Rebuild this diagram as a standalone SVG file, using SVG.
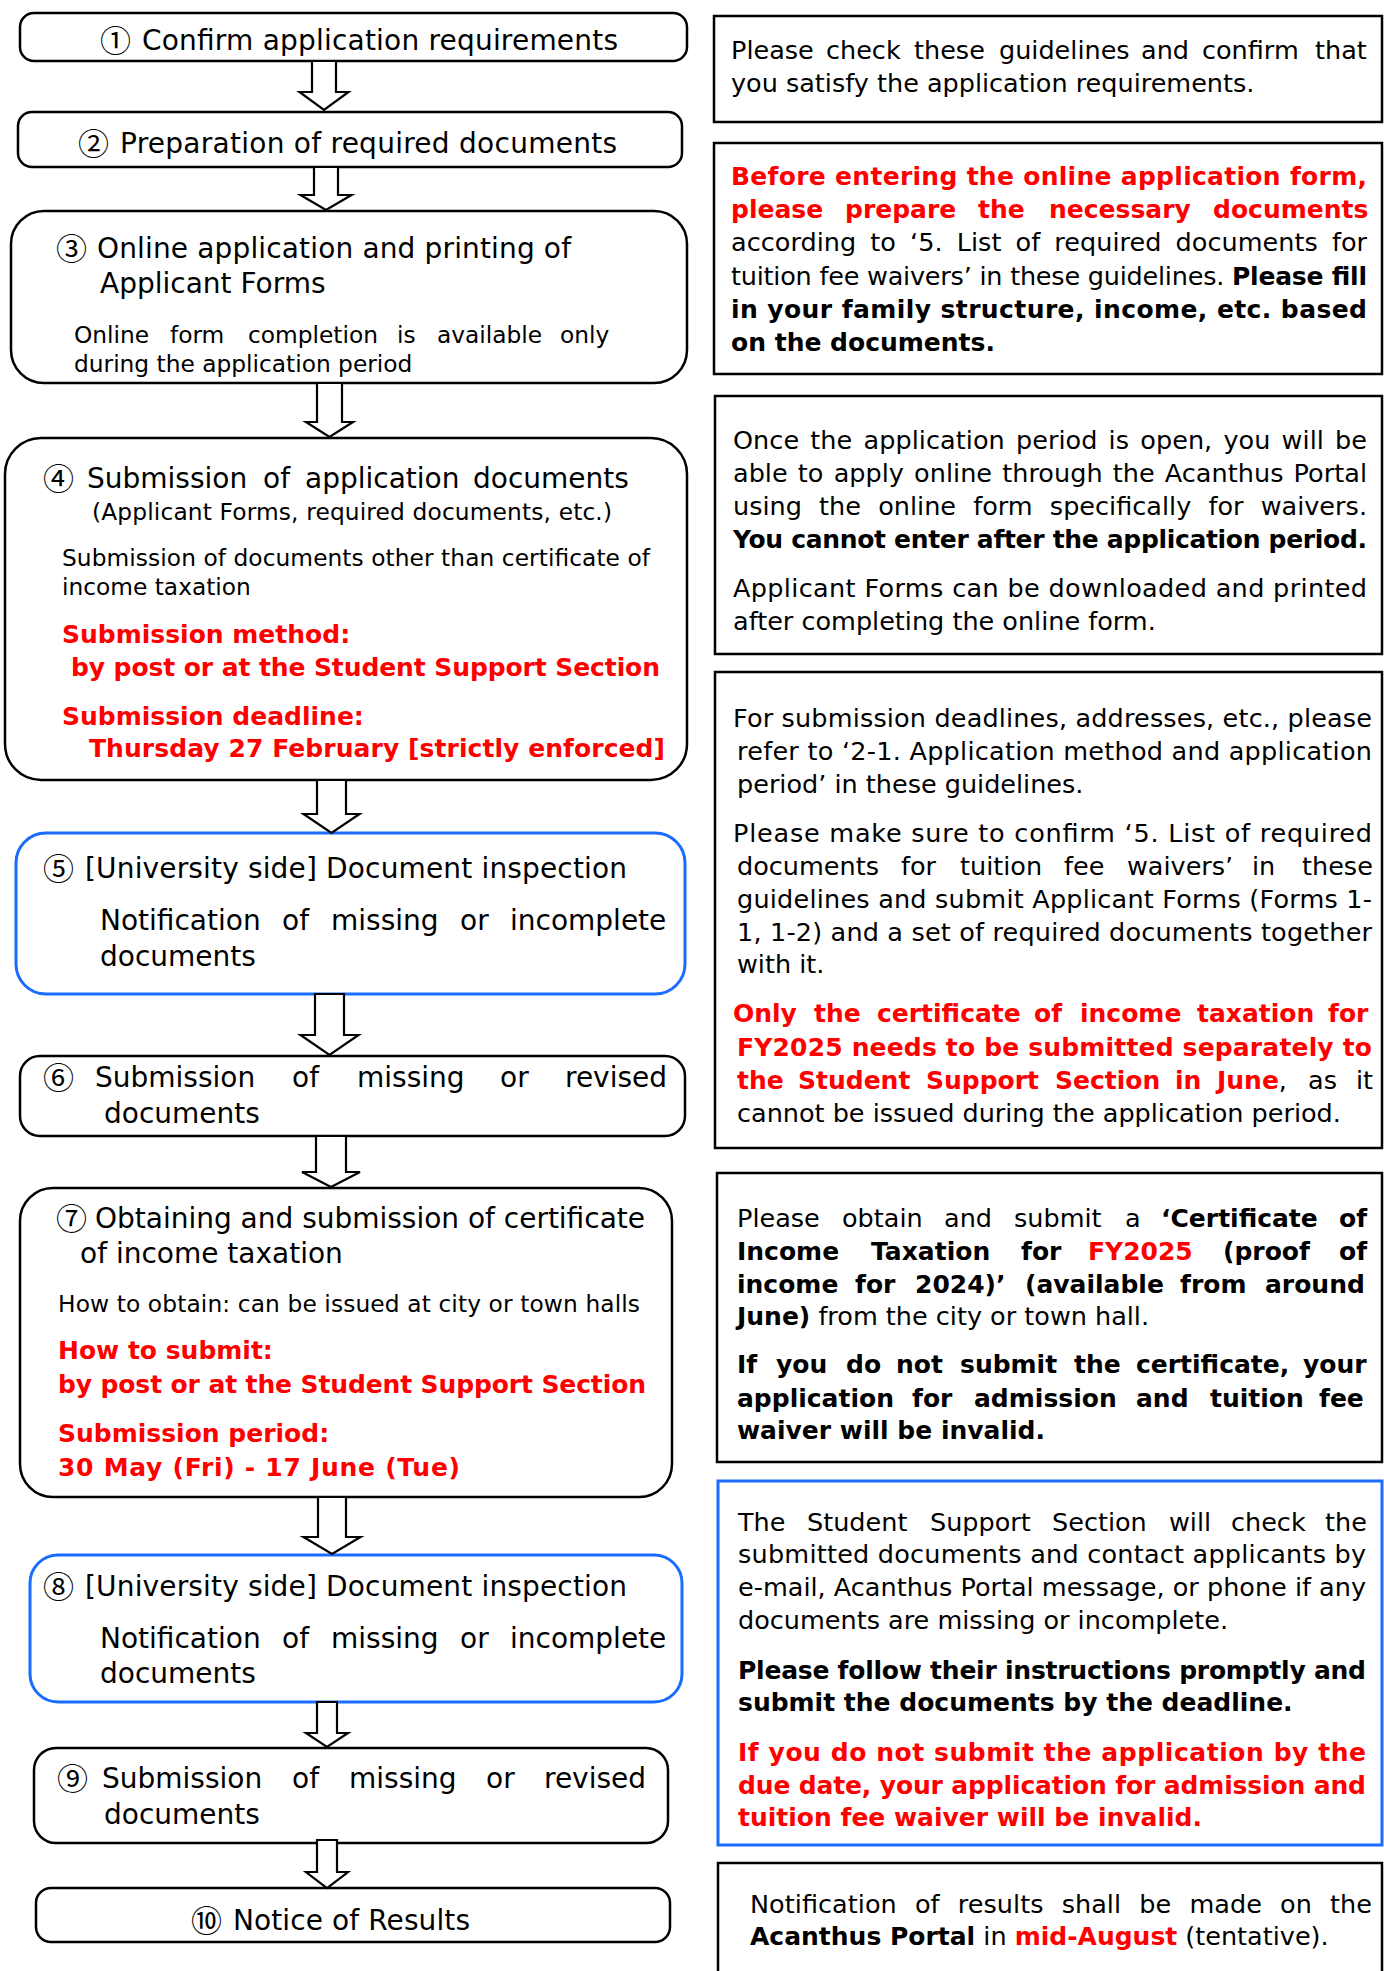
<svg xmlns="http://www.w3.org/2000/svg" width="1384" height="1971" viewBox="0 0 1384 1971">
<style>
.f{font-family:"DejaVu Sans",Verdana,"Noto Sans CJK JP",sans-serif;fill:#000}
.c{font-family:"Noto Sans CJK JP","DejaVu Sans",sans-serif;font-size:31px;fill:#000}
.t28{font-size:28px}
.t23{font-size:23.3px}
.t25{font-size:25.5px}
.bd{font-weight:bold;font-size:25px}
.rd{fill:#ff0000}
.box{fill:#fff;stroke:#000;stroke-width:2.5}
.blue{fill:#fff;stroke:#1a6cff;stroke-width:3}
.arr{fill:#fff;stroke:#000;stroke-width:2.2;stroke-linejoin:miter}
</style>
<rect width="1384" height="1971" fill="#fff"/>

<!-- Left column steps -->
<g id="step1">
<rect class="box" x="20" y="13" width="667" height="48" rx="14"/>
<text class="c" x="100" y="52">①</text>
<text class="f t28" x="142" y="50" textLength="476" lengthAdjust="spacing">Confirm application requirements</text>
</g>
<g id="step2">
<rect class="box" x="18" y="112" width="664" height="55" rx="14"/>
<text class="c" x="78" y="155">②</text>
<text class="f t28" x="120" y="153" textLength="497" lengthAdjust="spacing">Preparation of required documents</text>
</g>
<g id="step3">
<rect class="box" x="11" y="211" width="676" height="172" rx="33"/>
<text class="c" x="56" y="260">③</text>
<text class="f t28" x="97" y="258" textLength="474" lengthAdjust="spacing">Online application and printing of</text>
<text class="f t28" x="100" y="293">Applicant Forms</text>
<text class="f t23" y="343"><tspan x="74">Online</tspan><tspan x="170">form</tspan><tspan x="248">completion</tspan><tspan x="397">is</tspan><tspan x="437">available</tspan><tspan x="560">only</tspan></text>
<text class="f t23" x="74" y="372">during the application period</text>
</g>
<g id="step4">
<rect class="box" x="5" y="438" width="682" height="342" rx="36"/>
<text class="c" x="43" y="490">④</text>
<text class="f t28" y="488"><tspan x="87">Submission</tspan><tspan x="263">of</tspan><tspan x="305">application</tspan><tspan x="473">documents</tspan></text>
<text class="f t23" x="92" y="520" textLength="520" lengthAdjust="spacing">(Applicant Forms, required documents, etc.)</text>
<text class="f t23" x="62" y="566" textLength="588" lengthAdjust="spacing">Submission of documents other than certificate of</text>
<text class="f t23" x="62" y="595">income taxation</text>
<text class="f bd rd" x="62" y="643">Submission method:</text>
<text class="f bd rd" x="71" y="676" textLength="589" lengthAdjust="spacing">by post or at the Student Support Section</text>
<text class="f bd rd" x="62" y="725">Submission deadline:</text>
<text class="f bd rd" x="89" y="757" textLength="576" lengthAdjust="spacing">Thursday 27 February [strictly enforced]</text>
</g>
<g id="step5">
<rect class="blue" x="16" y="833" width="669" height="161" rx="30"/>
<text class="c" x="43" y="880">⑤</text>
<text class="f t28" x="85" y="878" textLength="542" lengthAdjust="spacing">[University side] Document inspection</text>
<text class="f t28" y="930"><tspan x="100">Notification</tspan><tspan x="282">of</tspan><tspan x="331">missing</tspan><tspan x="460">or</tspan><tspan x="510">incomplete</tspan></text>
<text class="f t28" x="100" y="966">documents</text>
</g>
<g id="step6">
<rect class="box" x="20" y="1056" width="665" height="80" rx="20"/>
<text class="c" x="43" y="1089">⑥</text>
<text class="f t28" y="1087"><tspan x="95">Submission</tspan><tspan x="292">of</tspan><tspan x="357">missing</tspan><tspan x="500">or</tspan><tspan x="565">revised</tspan></text>
<text class="f t28" x="104" y="1123">documents</text>
</g>
<g id="step7">
<rect class="box" x="20" y="1188" width="652" height="309" rx="33"/>
<text class="c" x="56" y="1230">⑦</text>
<text class="f t28" x="95" y="1228" textLength="550" lengthAdjust="spacing">Obtaining and submission of certificate</text>
<text class="f t28" x="80" y="1263">of income taxation</text>
<text class="f t23" x="58" y="1312" textLength="582" lengthAdjust="spacing">How to obtain: can be issued at city or town halls</text>
<text class="f bd rd" x="58" y="1359">How to submit:</text>
<text class="f bd rd" x="58" y="1393" textLength="588" lengthAdjust="spacing">by post or at the Student Support Section</text>
<text class="f bd rd" x="58" y="1442">Submission period:</text>
<text class="f bd rd" x="58" y="1476" textLength="402" lengthAdjust="spacing">30 May (Fri) - 17 June (Tue)</text>
</g>
<g id="step8">
<rect class="blue" x="30" y="1555" width="652" height="147" rx="28"/>
<text class="c" x="43" y="1598">⑧</text>
<text class="f t28" x="85" y="1596" textLength="542" lengthAdjust="spacing">[University side] Document inspection</text>
<text class="f t28" y="1648"><tspan x="100">Notification</tspan><tspan x="282">of</tspan><tspan x="331">missing</tspan><tspan x="460">or</tspan><tspan x="510">incomplete</tspan></text>
<text class="f t28" x="100" y="1683">documents</text>
</g>
<g id="step9">
<rect class="box" x="34" y="1748" width="634" height="95" rx="22"/>
<text class="c" x="57" y="1790">⑨</text>
<text class="f t28" y="1788"><tspan x="102">Submission</tspan><tspan x="292">of</tspan><tspan x="349">missing</tspan><tspan x="486">or</tspan><tspan x="544">revised</tspan></text>
<text class="f t28" x="104" y="1824">documents</text>
</g>
<g id="step10">
<rect class="box" x="36" y="1888" width="634" height="54" rx="15"/>
<text class="c" x="191" y="1932">⑩</text>
<text class="f t28" x="233" y="1930" textLength="237" lengthAdjust="spacing">Notice of Results</text>
</g>

<!-- Right column notes -->
<g id="note1">
<rect class="box" x="714" y="16" width="668" height="106"/>
<text class="f t25" y="59"><tspan x="731">Please</tspan><tspan x="826">check</tspan><tspan x="914">these</tspan><tspan x="999">guidelines</tspan><tspan x="1141">and</tspan><tspan x="1202">confirm</tspan><tspan x="1315">that</tspan></text>
<text class="f t25" x="731" y="92">you satisfy the application requirements.</text>
</g>
<g id="note2">
<rect class="box" x="714" y="143" width="668" height="231"/>
<text class="f bd rd" x="731" y="185" textLength="636" lengthAdjust="spacing">Before entering the online application form,</text>
<text class="f bd rd" y="218"><tspan x="731">please</tspan><tspan x="845">prepare</tspan><tspan x="978">the</tspan><tspan x="1049">necessary</tspan><tspan x="1213">documents</tspan></text>
<text class="f t25" x="731" y="251" word-spacing="6" textLength="636" lengthAdjust="spacing">according to ‘5. List of required documents for</text>
<text class="f t25" x="731" y="285" textLength="636" lengthAdjust="spacing">tuition fee waivers’ in these guidelines. <tspan class="bd">Please fill</tspan></text>
<text class="f bd" x="731" y="318" textLength="636" lengthAdjust="spacing">in your family structure, income, etc. based</text>
<text class="f bd" x="731" y="351">on the documents.</text>
</g>
<g id="note3">
<rect class="box" x="715" y="396" width="667" height="258"/>
<text class="f t25" x="733" y="449" word-spacing="3" textLength="634" lengthAdjust="spacing">Once the application period is open, you will be</text>
<text class="f t25" x="733" y="482" word-spacing="2" textLength="634" lengthAdjust="spacing">able to apply online through the Acanthus Portal</text>
<text class="f t25" x="733" y="515" word-spacing="9" textLength="634" lengthAdjust="spacing">using the online form specifically for waivers.</text>
<text class="f bd" x="733" y="548" textLength="634" lengthAdjust="spacing">You cannot enter after the application period.</text>
<text class="f t25" x="733" y="597" textLength="634" lengthAdjust="spacing">Applicant Forms can be downloaded and printed</text>
<text class="f t25" x="733" y="630">after completing the online form.</text>
</g>
<g id="note4">
<rect class="box" x="715" y="672" width="667" height="476"/>
<text class="f t25" x="733" y="727" textLength="639" lengthAdjust="spacing">For submission deadlines, addresses, etc., please</text>
<text class="f t25" x="737" y="760" textLength="635" lengthAdjust="spacing">refer to ‘2-1. Application method and application</text>
<text class="f t25" x="737" y="793">period’ in these guidelines.</text>
<text class="f t25" x="733" y="842" textLength="639" lengthAdjust="spacing">Please make sure to confirm ‘5. List of required</text>
<text class="f t25" y="875"><tspan x="737">documents</tspan><tspan x="901">for</tspan><tspan x="960">tuition</tspan><tspan x="1064">fee</tspan><tspan x="1127">waivers’</tspan><tspan x="1252">in</tspan><tspan x="1302">these</tspan></text>
<text class="f t25" x="737" y="908" textLength="635" lengthAdjust="spacing">guidelines and submit Applicant Forms (Forms 1-</text>
<text class="f t25" x="737" y="941" textLength="635" lengthAdjust="spacing">1, 1-2) and a set of required documents together</text>
<text class="f t25" x="737" y="973">with it.</text>
<text class="f bd rd" y="1022"><tspan x="733">Only</tspan><tspan x="814">the</tspan><tspan x="877">certificate</tspan><tspan x="1034">of</tspan><tspan x="1080">income</tspan><tspan x="1197">taxation</tspan><tspan x="1328">for</tspan></text>
<text class="f bd rd" x="737" y="1056" textLength="635" lengthAdjust="spacing">FY2025 needs to be submitted separately to</text>
<text class="f t25" y="1089"><tspan class="bd rd" x="737">the</tspan><tspan class="bd rd" x="798">Student</tspan><tspan class="bd rd" x="926">Support</tspan><tspan class="bd rd" x="1055">Section</tspan><tspan class="bd rd" x="1175">in</tspan><tspan class="bd rd" x="1217">June</tspan>,<tspan x="1308">as</tspan><tspan x="1356">it</tspan></text>
<text class="f t25" x="737" y="1122">cannot be issued during the application period.</text>
</g>
<g id="note5">
<rect class="box" x="717" y="1173" width="665" height="289"/>
<text class="f t25" y="1227"><tspan x="737">Please</tspan><tspan x="842">obtain</tspan><tspan x="944">and</tspan><tspan x="1014">submit</tspan><tspan x="1125">a</tspan><tspan class="bd" x="1161">‘Certificate</tspan><tspan class="bd" x="1339">of</tspan></text>
<text class="f bd" y="1260"><tspan x="737">Income</tspan><tspan x="871">Taxation</tspan><tspan x="1021">for</tspan><tspan class="rd" x="1088">FY2025</tspan><tspan x="1223">(proof</tspan><tspan x="1339">of</tspan></text>
<text class="f bd" y="1293"><tspan x="737">income</tspan><tspan x="855">for</tspan><tspan x="915">2024)’</tspan><tspan x="1025">(available</tspan><tspan x="1180">from</tspan><tspan x="1265">around</tspan></text>
<text class="f t25" x="737" y="1325"><tspan class="bd">June)</tspan> from the city or town hall.</text>
<text class="f bd" y="1373"><tspan x="737">If</tspan><tspan x="776">you</tspan><tspan x="846">do</tspan><tspan x="896">not</tspan><tspan x="960">submit</tspan><tspan x="1074">the</tspan><tspan x="1136">certificate,</tspan><tspan x="1303">your</tspan></text>
<text class="f bd" y="1407"><tspan x="737">application</tspan><tspan x="912">for</tspan><tspan x="974">admission</tspan><tspan x="1136">and</tspan><tspan x="1210">tuition</tspan><tspan x="1319">fee</tspan></text>
<text class="f bd" x="737" y="1439">waiver will be invalid.</text>
</g>
<g id="note6">
<rect class="blue" x="718" y="1481" width="664" height="364"/>
<text class="f t25" y="1531"><tspan x="738">The</tspan><tspan x="807">Student</tspan><tspan x="930">Support</tspan><tspan x="1052">Section</tspan><tspan x="1169">will</tspan><tspan x="1231">check</tspan><tspan x="1325">the</tspan></text>
<text class="f t25" x="738" y="1563" textLength="628" lengthAdjust="spacing">submitted documents and contact applicants by</text>
<text class="f t25" x="738" y="1596" textLength="628" lengthAdjust="spacing">e-mail, Acanthus Portal message, or phone if any</text>
<text class="f t25" x="738" y="1629">documents are missing or incomplete.</text>
<text class="f bd" x="738" y="1679" textLength="628" lengthAdjust="spacing">Please follow their instructions promptly and</text>
<text class="f bd" x="738" y="1711">submit the documents by the deadline.</text>
<text class="f bd rd" x="738" y="1761" textLength="628" lengthAdjust="spacing">If you do not submit the application by the</text>
<text class="f bd rd" x="738" y="1794" textLength="628" lengthAdjust="spacing">due date, your application for admission and</text>
<text class="f bd rd" x="738" y="1826">tuition fee waiver will be invalid.</text>
</g>
<g id="note7">
<rect class="box" x="718" y="1863" width="664" height="130"/>
<text class="f t25" x="750" y="1913" word-spacing="10" textLength="622" lengthAdjust="spacing">Notification of results shall be made on the</text>
<text class="f t25" x="750" y="1945"><tspan class="bd">Acanthus Portal</tspan> in <tspan class="bd rd">mid-August</tspan> (tentative).</text>
</g>

<!-- Connectors: hollow block arrows -->
<g id="connectors">
<polygon class="arr" points="312,61 336,61 336,92 348.5,92 324,110 299.5,92 312,92"/>
<polygon class="arr" points="314,167 338,167 338,195 351.5,195 326,210 300.5,195 314,195"/>
<polygon class="arr" points="317,383 342,383 342,422 353,422 329.5,437 306,422 317,422"/>
<polygon class="arr" points="317,780 346,780 346,814 359.5,814 331.5,833 303.5,814 317,814"/>
<polygon class="arr" points="315,994 344,994 344,1035 358.5,1035 329.5,1055 300.5,1035 315,1035"/>
<polygon class="arr" points="316,1136 346,1136 346,1172 360,1172 331,1187 302,1172 316,1172"/>
<polygon class="arr" points="318,1497 346,1497 346,1537 360.5,1537 332,1554 303.5,1537 318,1537"/>
<polygon class="arr" points="317,1702 337,1702 337,1733 348,1733 327,1747 306,1733 317,1733"/>
<polygon class="arr" points="317,1840 337,1840 337,1872 348,1872 327,1888 306,1872 317,1872"/>
</g>
</svg>
